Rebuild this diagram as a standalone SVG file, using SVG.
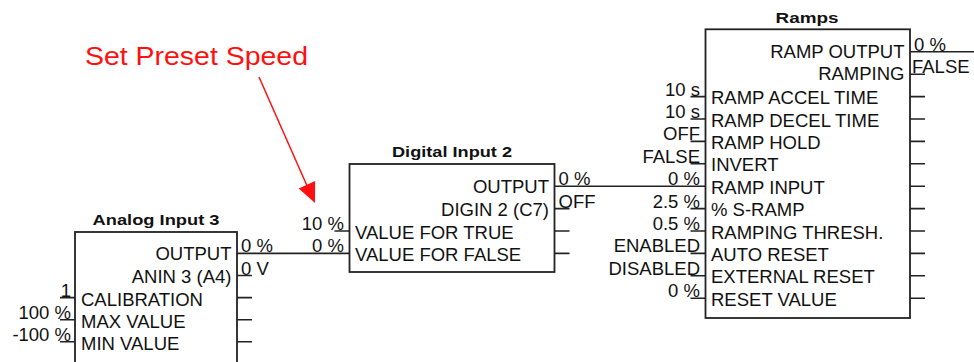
<svg xmlns="http://www.w3.org/2000/svg" width="974" height="362" viewBox="0 0 974 362">
<defs>
<style>
.box{fill:#fff;stroke:#222;stroke-width:1.8}
.pin{stroke:#222;stroke-width:1.6;fill:none}
.wire{stroke:#222;stroke-width:1.6;fill:none}
text{font-family:"Liberation Sans",Arial,sans-serif;fill:#111}
.lbl{font-size:18.5px}
.val{font-size:18.5px}
.r{text-anchor:end}
.ttl{font-size:15.5px;font-weight:bold;text-anchor:middle}
.note{font-size:26px;fill:#ff1010}
</style>
</defs>
<rect width="974" height="362" fill="#fff"/>

<g id="connectors">
<line class="wire" x1="237" y1="253.4" x2="349.5" y2="253.4"/>
<line class="wire" x1="554.5" y1="186.2" x2="705.5" y2="186.2"/>
<line class="wire" x1="910" y1="51.8" x2="974" y2="51.8"/>
</g>

<g id="annotation">
<text class="note" x="85" y="65" textLength="223" lengthAdjust="spacingAndGlyphs">Set Preset Speed</text>
<line x1="259" y1="77" x2="308" y2="188" stroke="#ff1010" stroke-width="1.5"/>
<polygon points="315,203 298.7,188.4 315.1,181" fill="#ff1010"/>
</g>

<g id="analog-input-3">
<rect class="box" x="75" y="232" width="162" height="150"/>
<text class="ttl" x="156" y="225" textLength="127" lengthAdjust="spacingAndGlyphs">Analog Input 3</text>
<path class="pin" d="M237 275.5h15M237 297.6h15M237 319.7h15M237 341.8h15M60 297.6h15M60 319.7h15M60 341.8h15"/>
<text class="lbl r" x="231.5" y="260.4">OUTPUT</text>
<text class="lbl r" x="231.5" y="282.5">ANIN 3 (A4)</text>
<text class="lbl" x="81" y="305.6">CALIBRATION</text>
<text class="lbl" x="81" y="327.7">MAX VALUE</text>
<text class="lbl" x="81" y="349.8">MIN VALUE</text>
<text class="val" x="241" y="252.4">0 %</text>
<text class="val" x="241" y="274.5">0 V</text>
<text class="val r" x="71" y="296.6">1</text>
<text class="val r" x="71" y="318.7">100 %</text>
<text class="val r" x="71" y="340.8">-100 %</text>
</g>

<g id="digital-input-2">
<rect class="box" x="349.5" y="164" width="205" height="108"/>
<text class="ttl" x="452" y="157" textLength="120" lengthAdjust="spacingAndGlyphs">Digital Input 2</text>
<path class="pin" d="M554.5 208.6h15M554.5 231h15M554.5 253.4h15M334.5 231h15"/>
<text class="lbl r" x="549" y="193.2">OUTPUT</text>
<text class="lbl r" x="549" y="215.6">DIGIN 2 (C7)</text>
<text class="lbl" x="355" y="239">VALUE FOR TRUE</text>
<text class="lbl" x="355" y="261.4">VALUE FOR FALSE</text>
<text class="val" x="558.5" y="185.2">0 %</text>
<text class="val" x="558.5" y="207.6">OFF</text>
<text class="val r" x="344" y="230">10 %</text>
<text class="val r" x="344" y="252.4">0 %</text>
</g>

<g id="ramps">
<rect class="box" x="705.5" y="29.3" width="204.5" height="288.7"/>
<text class="ttl" x="807" y="22.5" textLength="63" lengthAdjust="spacingAndGlyphs">Ramps</text>
<path class="pin" d="M910 74.2h15M910 96.6h15M910 119h15M910 141.4h15M910 163.8h15M910 186.2h15M910 208.6h15M910 231h15M910 253.4h15M910 275.8h15M910 298.2h15"/>
<path class="pin" d="M690.5 96.6h15M690.5 119h15M690.5 141.4h15M690.5 163.8h15M690.5 208.6h15M690.5 231h15M690.5 253.4h15M690.5 275.8h15M690.5 298.2h15"/>
<text class="lbl r" x="904.5" y="57.8">RAMP OUTPUT</text>
<text class="lbl r" x="904.5" y="80.2">RAMPING</text>
<text class="lbl" x="711" y="104.1">RAMP ACCEL TIME</text>
<text class="lbl" x="711" y="126.5">RAMP DECEL TIME</text>
<text class="lbl" x="711" y="148.9">RAMP HOLD</text>
<text class="lbl" x="711" y="171.3">INVERT</text>
<text class="lbl" x="711" y="193.7">RAMP INPUT</text>
<text class="lbl" x="711" y="216.1">% S-RAMP</text>
<text class="lbl" x="711" y="238.5">RAMPING THRESH.</text>
<text class="lbl" x="711" y="260.9">AUTO RESET</text>
<text class="lbl" x="711" y="283.3">EXTERNAL RESET</text>
<text class="lbl" x="711" y="305.7">RESET VALUE</text>
<text class="val" x="914" y="50.8">0 %</text>
<text class="val" x="912" y="73.2">FALSE</text>
<text class="val r" x="700" y="95.6">10 s</text>
<text class="val r" x="700" y="118">10 s</text>
<text class="val r" x="700" y="140.4">OFF</text>
<text class="val r" x="700" y="162.8">FALSE</text>
<text class="val r" x="700" y="185.2">0 %</text>
<text class="val r" x="700" y="207.6">2.5 %</text>
<text class="val r" x="700" y="230">0.5 %</text>
<text class="val r" x="700" y="252.4">ENABLED</text>
<text class="val r" x="700" y="274.8">DISABLED</text>
<text class="val r" x="700" y="297.2">0 %</text>
</g>
</svg>
